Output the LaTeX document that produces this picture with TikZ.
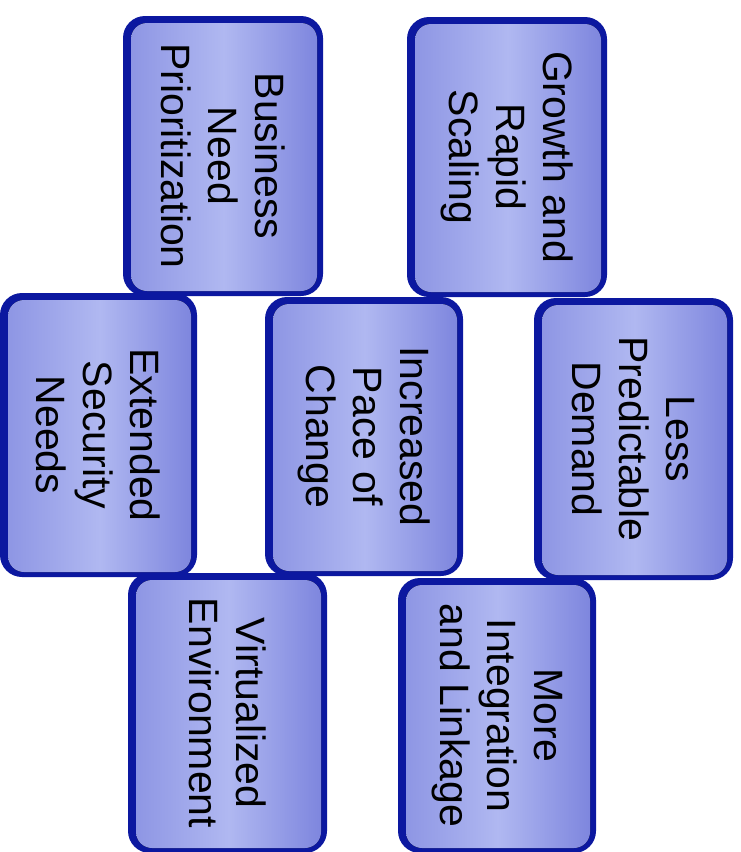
\documentclass[tikz,border=0pt]{standalone}
\usepackage{fontspec}
\setmainfont{Liberation Sans}
\begin{document}
\begin{tikzpicture}[x=1pt,y=-1pt]
\definecolor{rim}{RGB}{12,24,160}
\definecolor{faceL}{RGB}{142,150,228}
\definecolor{faceM}{RGB}{176,184,241}
\definecolor{faceR}{RGB}{126,134,222}
\tikzset{
  rimshape/.style={fill=rim, rounded corners=22pt},
  faceshape/.style={left color=faceL, right color=faceR, middle color=faceM, rounded corners=16pt},
  tiletext/.style={rotate=-90, align=center, text=black, inner sep=0pt,
                   font=\fontsize{41}{47}\selectfont}
}
% #1 name, #2..#5 corners (left, top, right, bottom), #6 text
\newcommand\tile[6]{%
  \fill[rimshape] (#2,#3) rectangle (#4,#5);
  \fill[faceshape] (#2+8,#3+7) rectangle (#4-6,#5-5);
  \node[tiletext] (#1) at ({(#2+#4)/2},{(#3+#5)/2}) {#6};
}
\useasboundingbox (0,0) rectangle (740,852);
% top row
\tile{business}{123}{16}{323}{296}{Business\\Need\\Prioritization}
\tile{growth}{407}{17}{607}{297}{Growth and\\Rapid\\Scaling}
% middle row
\tile{security}{0}{293}{197}{577}{Extended\\Security\\Needs}
\tile{pace}{265}{297}{463}{576}{Increased\\Pace of\\Change}
\tile{demand}{534}{298}{733}{580}{Less\\Predictable\\Demand}
% bottom row
\tile{virtual}{128}{573}{327}{853}{Virtualized\\Environment}
\tile{linkage}{398}{578}{596}{853}{More\\Integration\\and Linkage}
\end{tikzpicture}
\end{document}
